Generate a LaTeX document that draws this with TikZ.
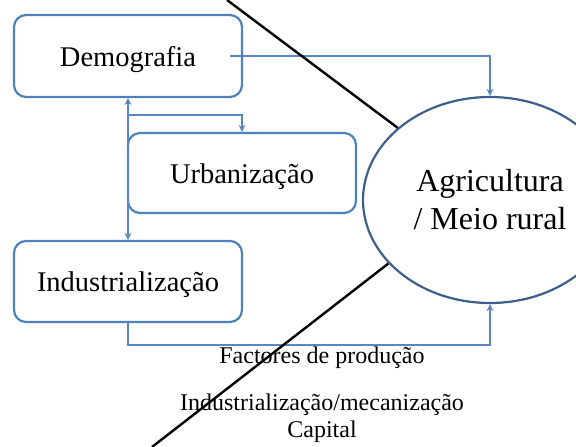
\documentclass[tikz,border=0pt]{standalone}
\usepackage{fontspec}
\setmainfont{Liberation Serif}
\usetikzlibrary{shapes.geometric,arrows.meta}
\definecolor{boxblue}{RGB}{79,129,189}
\definecolor{linkblue}{RGB}{90,135,195}
\definecolor{ellblue}{RGB}{60,95,140}

\begin{document}
\begin{tikzpicture}[x=1pt,y=-1pt,>={Stealth[length=7pt,width=7pt]},
box/.style = {draw=boxblue, line width=2.2pt, rounded corners=12pt, minimum width=228pt, minimum height=81pt, text height=20pt, text depth=0pt, font=\fontsize{28.5}{34}\selectfont},
link/.style = {draw=linkblue, line width=1.4pt},
cut/.style = {draw=black, line width=2.4pt},
lab/.style = {anchor=base, inner sep=0pt, font=\fontsize{24}{27}\selectfont},]
\useasboundingbox (0,0) rectangle (576,447);
\clip (0,0) rectangle (576,447);
\node (demo) at (128,56)[box,minimum height=82pt] {Demografia};
\node (urb) at (242,173)[box,minimum height=80pt] {Urbanização};
\node (indus) at (128,281.5)[box] {Industrialização};
\node (agri) at (490,200)[ellipse,draw=ellblue,line width=2.2pt,minimum width=254pt,minimum height=206pt,align=center,font=\fontsize{32}{38}\selectfont] {Agricultura\\/ Meio rural};
\coordinate (fork) at (128,115);
\coordinate (low) at (128,345);
\draw[link,->] ([xshift=-13pt]demo.east) -| (agri.north);
\draw[link,<->] (demo.south) -- (indus.north);
\draw[link,->] (fork) -| (urb.north);
\draw[link,->] (indus.south) -- (low) -| (agri.south);
\node (fact) at (322,363)[lab] {Factores de produção};
\node (mec) at (322,410)[lab] {Industrialização/mecanização};
\node (cap) at (322,437)[lab] {Capital};
\coordinate (ctop) at (227,0);
\coordinate (cbot) at (152,447);
\draw[cut] (ctop) -- (agri.142);
\draw[cut] (agri.212) -- (cbot);
\end{tikzpicture}
\end{document}
